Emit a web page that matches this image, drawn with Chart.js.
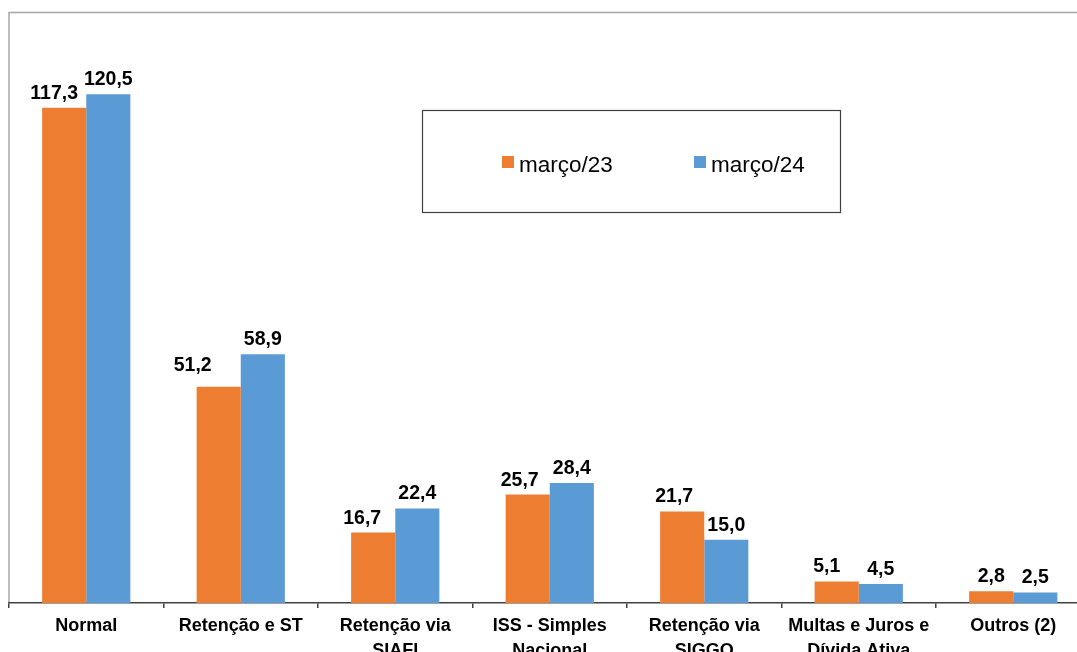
<!DOCTYPE html>
<html lang="pt-BR">
<head>
<meta charset="utf-8">
<title>ISS - Arrecadação por modalidade</title>
<script src="https://cdn.jsdelivr.net/npm/chart.js@4.4.1/dist/chart.umd.min.js"></script>
<style>
  html, body { margin: 0; padding: 0; background: #ffffff; overflow: hidden; }
  #wrap { position: absolute; left: 0; top: 0; width: 1100px; height: 700px; }
  canvas { display: block; }
</style>
</head>
<body>
<div id="wrap"><canvas id="chart" width="1100" height="700"></canvas></div>
<script>
// Categories (multi-line labels as arrays)
const categories = [
  'Normal',
  'Retenção e ST',
  ['Retenção via', 'SIAFI'],
  ['ISS - Simples', 'Nacional'],
  ['Retenção via', 'SIGGO'],
  ['Multas e Juros e', 'Dívida Ativa'],
  'Outros (2)'
];

// Series values (R$ milhões)
const marco23 = [117.3, 51.2, 16.7, 25.7, 21.7, 5.1, 2.8];
const marco24 = [120.5, 58.9, 22.4, 28.4, 15.0, 4.5, 2.5];

const seriesNames = ['março/23', 'março/24'];
const seriesColors = ['#ED7D31', '#5B9BD5'];

// Small hand nudges for the value labels of the first series [dx, dy]
const labelNudge23 = [[-10, 0], [-26, -7], [-11, 0], [-8, 0], [-8, 0], [-10, 0], [0, 0]];

const FONT = '"Liberation Sans", Arial, Helvetica, sans-serif';

// Gray frame along the top and left of the plot area
const framePlugin = {
  id: 'frame',
  beforeDraw(chart) {
    const { ctx, chartArea: a } = chart;
    ctx.save();
    ctx.strokeStyle = '#a6a6a6';
    ctx.lineWidth = 1.5;
    ctx.beginPath();
    ctx.moveTo(a.left, a.bottom);
    ctx.lineTo(a.left, a.top + 0.5);
    ctx.lineTo(chart.width, a.top + 0.5);
    ctx.stroke();
    ctx.restore();
  }
};

// Value labels above every bar
const valueLabels = {
  id: 'valueLabels',
  afterDatasetsDraw(chart) {
    const { ctx } = chart;
    ctx.save();
    ctx.font = 'bold 19.5px ' + FONT;
    ctx.fillStyle = '#000000';
    ctx.textAlign = 'center';
    ctx.textBaseline = 'alphabetic';
    chart.data.datasets.forEach((ds, i) => {
      const meta = chart.getDatasetMeta(i);
      meta.data.forEach((el, j) => {
        const v = ds.data[j];
        const txt = v.toFixed(1).replace('.', ',');
        let dx = 0, dy = 0;
        if (i === 0) { dx = labelNudge23[j][0]; dy = labelNudge23[j][1]; }
        ctx.fillText(txt, el.x + dx, el.y - 9 + dy);
      });
    });
    ctx.restore();
  }
};

// Boxed legend inside the plot area
const boxedLegend = {
  id: 'boxedLegend',
  afterDraw(chart) {
    const { ctx } = chart;
    const box = { x: 422.5, y: 110.5, w: 418, h: 102 };
    ctx.save();
    ctx.fillStyle = '#ffffff';
    ctx.fillRect(box.x, box.y, box.w, box.h);
    ctx.strokeStyle = '#404040';
    ctx.lineWidth = 1.2;
    ctx.strokeRect(box.x, box.y, box.w, box.h);
    ctx.font = '22.5px ' + FONT;
    ctx.textBaseline = 'alphabetic';
    ctx.textAlign = 'left';
    const items = [{ sx: 502 }, { sx: 694 }];
    chart.data.datasets.forEach((ds, i) => {
      const sx = items[i].sx;
      ctx.fillStyle = ds.backgroundColor;
      ctx.fillRect(sx, 156, 12, 12);
      ctx.fillStyle = '#000000';
      ctx.fillText(ds.label, sx + 17, 172);
    });
    ctx.restore();
  }
};

new Chart(document.getElementById('chart'), {
  type: 'bar',
  data: {
    labels: categories,
    datasets: [
      { label: seriesNames[0], data: marco23, backgroundColor: seriesColors[0] },
      { label: seriesNames[1], data: marco24, backgroundColor: seriesColors[1] }
    ]
  },
  options: {
    responsive: false,
    animation: false,
    devicePixelRatio: 1,
    layout: { padding: { top: 12, left: 9, right: 9.5, bottom: 0 } },
    datasets: { bar: { categoryPercentage: 0.571, barPercentage: 1.0, borderWidth: 0 } },
    plugins: {
      legend: { display: false },
      title: { display: false },
      tooltip: { enabled: false }
    },
    scales: {
      x: {
        grid: {
          display: true,
          drawOnChartArea: false,
          drawTicks: true,
          tickLength: 5,
          color: '#404040',
          lineWidth: 1.5,
          offset: true
        },
        border: { display: true, color: '#404040', width: 1.5 },
        ticks: {
          color: '#000000',
          font: { family: FONT, size: 18, weight: 'bold', lineHeight: 1.4 },
          padding: 5,
          maxRotation: 0,
          minRotation: 0,
          autoSkip: false
        },
        afterFit(scale) { scale.height = 97; }
      },
      y: {
        display: false,
        min: 0,
        max: 140
      }
    }
  },
  plugins: [framePlugin, valueLabels, boxedLegend]
});
</script>
</body>
</html>
